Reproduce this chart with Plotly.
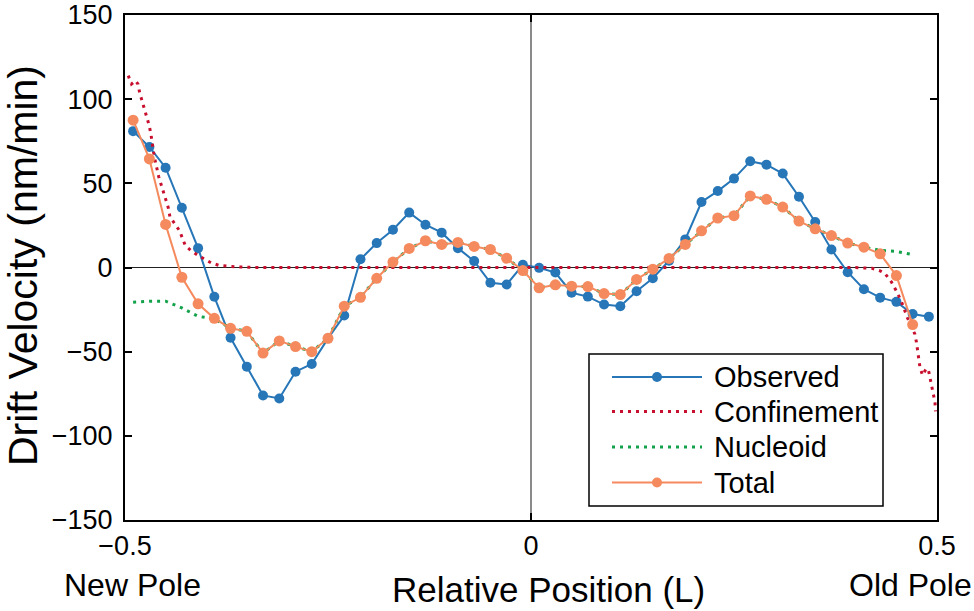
import plotly.graph_objects as go

# ---------------- data ----------------
x_grid = [round(-0.49 + 0.02 * i, 2) for i in range(50)]

observed = [81, 71.6, 59.3, 35.5, 11.5, -17.4, -41.7, -58.9, -76, -77.8,
            -61.9, -57.3, -42.1, -28.5, 4.9, 14.5, 22.4, 32.6, 25.4, 20.7,
            11.5, 3.8, -9.1, -10.1, 1.6, -0.2, -3, -15, -17.3, -22,
            -23, -14.1, -6.4, 4, 16.7, 38.9, 45.4, 52.8, 63.1, 61.1,
            55.8, 42, 27, 10.7, -2.8, -12.9, -17.9, -20.4, -27.6, -29.2]

total = [87.5, 64.5, 25.6, -5.8, -21.6, -30.2, -36.1, -37.9, -50.8, -43.6,
         -47, -50, -42.1, -23, -17.7, -6.4, 3.2, 11.3, 15.9, 13.7,
         14.9, 12.5, 10.7, 5.5, -1.8, -12.1, -10.3, -11.1, -11.3, -15.5,
         -16.1, -7.1, -1, 5.4, 13.7, 21.8, 29.4, 30.8, 42.5, 40.5,
         35.9, 27.6, 23, 19, 14.5, 12.1, 8.1, -4.8, -33.9]

nucleoid = [-20.6, -20, -20, -24, -29, -30.5, -36, -37.9, -50.8, -43.6,
            -47, -50, -42.1, -23, -17.7, -6.4, 3.2, 11.3, 15.9, 13.7,
            14.9, 12.5, 10.7, 5.5, -1.8, -12.1, -10.3, -11.1, -11.3, -15.5,
            -16.1, -7.1, -1, 5.4, 13.7, 21.8, 29.4, 30.8, 42.5, 40.5,
            35.9, 27.6, 23, 19, 14.5, 12.1, 10.2, 9.5, 7.7]

conf_x = [-0.496, -0.492, -0.487, -0.484, -0.482, -0.479, -0.476, -0.473, -0.470,
          -0.468, -0.464, -0.4585, -0.4467, -0.4446, -0.433, -0.4257, -0.4187,
          -0.411, -0.394, -0.384, -0.36, -0.34, -0.2, 0.0, 0.2, 0.40, 0.42,
          0.43, 0.436, 0.444, 0.45, 0.456, 0.4637, 0.4686, 0.4727, 0.4747,
          0.4764, 0.4777, 0.479, 0.4822, 0.4864, 0.4892, 0.4913, 0.4933,
          0.4953, 0.4975, 0.4982]
confinement = [114, 109, 111, 109, 104, 99, 94, 89, 84,
               79, 66, 54, 35.5, 30, 22, 13, 10,
               7.5, 2.8, 1.2, 0.3, 0, 0, 0, 0, 0, -0.5,
               -2, -3.6, -8.7, -14, -20, -30, -35, -39.5, -44.4,
               -49.4, -54.4, -59.3, -64, -60.3, -60.3, -65, -70,
               -75, -80, -85.5]

x_tickvals = [-0.5, 0, 0.5]
x_ticktext = ["\u22120.5", "0", "0.5"]
y_tickvals = [-150, -100, -50, 0, 50, 100, 150]
y_ticktext = ["\u2212150", "\u2212100", "\u221250", "0", "50", "100", "150"]

series_names = ["Observed", "Confinement", "Nucleoid", "Total"]

# ---------------- style ----------------
BLUE = "#2676b8"
RED = "#c8102e"
GREEN = "#13a24a"
ORANGE = "#f58a5e"
FONT = "Liberation Sans, Arial, sans-serif"
DOT = "3px,5px"

fig = go.Figure()
fig.add_trace(go.Scatter(x=x_grid, y=observed, mode="lines+markers", name=series_names[0],
                         line=dict(color=BLUE, width=2), marker=dict(size=10, color=BLUE)))
fig.add_trace(go.Scatter(x=conf_x, y=confinement, mode="lines", name=series_names[1],
                         line=dict(color=RED, width=3, dash=DOT)))
fig.add_trace(go.Scatter(x=x_grid[:49], y=nucleoid, mode="lines", name=series_names[2],
                         line=dict(color=GREEN, width=3, dash=DOT)))
fig.add_trace(go.Scatter(x=x_grid[:49], y=total, mode="lines+markers", name=series_names[3],
                         line=dict(color=ORANGE, width=2), marker=dict(size=11, color=ORANGE)))

W, H = 974, 611
AX_L, AX_R, AX_T, AX_B = 125, 937, 15, 520   # plot-area edges in pixels
PW = AX_R - AX_L
PH = AX_B - AX_T

def px_x(p):
    return (p - AX_L) / PW

def px_y(p):
    return (AX_B - p) / PH

axis_common = dict(showline=True, linecolor="black", linewidth=2, mirror="ticks",
                   ticks="inside", ticklen=7, tickwidth=1.5, tickcolor="black",
                   showgrid=False, automargin=False, ticklabeloverflow="allow",
                   tickfont=dict(family=FONT, size=27, color="black"))

fig.update_layout(
    width=W, height=H,
    margin=dict(l=AX_L, r=W - AX_R, t=AX_T, b=H - AX_B, pad=0, autoexpand=False),
    paper_bgcolor="white", plot_bgcolor="white",
    showlegend=False,
    xaxis=dict(range=[-0.5, 0.5], tickmode="array", tickvals=x_tickvals, ticktext=x_ticktext,
               zeroline=True, zerolinecolor="#8a8a8a", zerolinewidth=2,
               ticklabelstandoff=1, **axis_common),
    yaxis=dict(range=[-150, 150], tickmode="array", tickvals=y_tickvals, ticktext=y_ticktext,
               zeroline=True, zerolinecolor="#222222", zerolinewidth=1,
               ticklabelstandoff=5, **axis_common),
)

annotations = [
    dict(text="Relative Position (L)", x=px_x(548), y=px_y(589), xref="paper", yref="paper",
         showarrow=False, xanchor="center", yanchor="middle", font=dict(family=FONT, size=35, color="black")),
    dict(text="New Pole", x=px_x(132), y=px_y(585), xref="paper", yref="paper",
         showarrow=False, xanchor="center", yanchor="middle", font=dict(family=FONT, size=32, color="black")),
    dict(text="Old Pole", x=px_x(910), y=px_y(585), xref="paper", yref="paper",
         showarrow=False, xanchor="center", yanchor="middle", font=dict(family=FONT, size=32, color="black")),
    dict(text="Drift Velocity (nm/min)", x=px_x(23), y=px_y(266), xref="paper", yref="paper",
         showarrow=False, xanchor="center", yanchor="middle", textangle=-90,
         font=dict(family=FONT, size=41, color="black")),
]

# manual legend
shapes = [dict(type="rect", xref="paper", yref="paper", x0=px_x(589), x1=px_x(883),
               y0=px_y(506), y1=px_y(354), line=dict(color="black", width=1.5),
               fillcolor="white", layer="above")]
rows = [377, 411.5, 447, 482.5]
styles = [(BLUE, "solid", 2, True), (RED, DOT, 3, False), (GREEN, DOT, 3, False), (ORANGE, "solid", 2, True)]
for name, ry, (col, dash, w, mk) in zip(series_names, rows, styles):
    shapes.append(dict(type="line", xref="paper", yref="paper", x0=px_x(612), x1=px_x(702),
                       y0=px_y(ry), y1=px_y(ry), line=dict(color=col, width=w, dash=dash), layer="above"))
    if mk:
        shapes.append(dict(type="circle", xref="paper", yref="paper", xsizemode="pixel", ysizemode="pixel",
                           xanchor=px_x(657), yanchor=px_y(ry), x0=-5, x1=5, y0=-5, y1=5,
                           fillcolor=col, line=dict(color=col, width=0), layer="above"))
    annotations.append(dict(text=name, x=px_x(712), y=px_y(ry), xref="paper", yref="paper",
                            showarrow=False, xanchor="left", yanchor="middle",
                            font=dict(family=FONT, size=29, color="black")))

fig.update_layout(shapes=shapes, annotations=annotations)
fig.write_html("out.html", config={"displayModeBar": False},
               post_script="document.body.style.margin='0';document.body.style.overflow='hidden';")
